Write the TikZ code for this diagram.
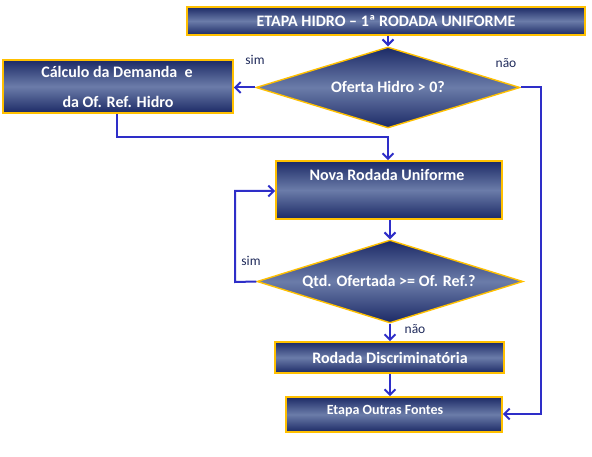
\documentclass[tikz,border=0pt]{standalone}
\usepackage{fontspec}
\setmainfont{Carlito}
\usetikzlibrary{shapes.geometric,arrows.meta}
\definecolor{navy}{HTML}{1C2A66}
\definecolor{midblue}{HTML}{6B7CA9}
\definecolor{gold}{HTML}{FFC000}
\definecolor{conn}{HTML}{2E2EC8}
\definecolor{lbl}{HTML}{1F2A5A}
\tikzset{
  box/.style={rectangle, draw=gold, line width=1.6pt, top color=navy, bottom color=navy, middle color=midblue, inner sep=0pt},
  dia/.style={diamond, draw=gold, line width=1.4pt, top color=navy, bottom color=navy, middle color=midblue, inner sep=0pt},
  txt/.style={text=white, font=\bfseries\fontsize{16}{18}\selectfont, inner sep=0pt},
  lab/.style={text=lbl, font=\fontsize{13.5}{15}\selectfont, inner sep=0pt},
  conn/.style={draw=conn, line width=2pt, -{Straight Barb[length=5.5pt,width=11pt,line width=2pt]}},
  line/.style={draw=conn, line width=2pt}
}
\begin{document}
\begin{tikzpicture}[x=1pt,y=-1pt]
\useasboundingbox (0,0) rectangle (592,457);
% nodes
\node[box, minimum width=398pt, minimum height=28pt] (top) at (386,21) {};
\node[txt] (toptxt) at (386,21) {ETAPA HIDRO – 1ª RODADA UNIFORME};
\node[dia, minimum width=264pt, minimum height=81pt] (d1) at (388,87.5) {};
\node[txt] (d1txt) at (388,87) {Oferta Hidro > 0?};
\node[box, minimum width=230pt, minimum height=53pt] (calc) at (118,86.5) {};
\node[txt] (calc1) at (117,72) {Cálculo da Demanda\ \ e};
\node[txt] (calc2) at (118,102) {da Of. Ref. Hidro};
\node[box, minimum width=226pt, minimum height=58pt] (nova) at (389,190) {};
\node[txt] (novatxt) at (387,175) {Nova Rodada Uniforme};
\node[dia, minimum width=266pt, minimum height=83pt] (d2) at (390,281.5) {};
\node[txt] (d2txt) at (389,282) {Qtd. Ofertada >= Of. Ref.?};
\node[box, minimum width=229pt, minimum height=31pt] (disc) at (389.5,357.5) {};
\node[txt] (disctxt) at (390,358) {Rodada Discriminatória};
\node[box, minimum width=216pt, minimum height=35pt] (outras) at (394,414.5) {};
\node[txt, font=\bfseries\fontsize{14}{16}\selectfont] (outrastxt) at (385,411) {Etapa Outras Fontes};
% labels
\node[lab] (sim1) at (255,60) {sim};
\node[lab] (nao1) at (506,63) {não};
\node[lab] (sim2) at (251,261) {sim};
\node[lab] (nao2) at (415,329) {não};
% helper coordinates
\coordinate (c1) at (117,137);
\coordinate (c2) at (388,137);
\coordinate (l1) at (235,282);
\coordinate (l2) at (235,191);
\coordinate (r1) at (541,87.5);
\coordinate (r2) at (541,414);
% connectors
\draw[conn] (top.south -| d1.north) -- (d1.north);
\draw[conn] (d1.west) -- (calc.east |- d1.west);
\draw[conn] (calc.south -| c1) -- (c1) -- (c2) -- (c2 |- nova.north);
\draw[conn] (nova.south -| d2.north) -- (d2.north);
\draw[conn] (d2.west) -- (l1) -- (l2) -- (nova.west |- l2);
\draw[conn] (d2.south) -- (d2.south |- disc.north);
\draw[conn] (disc.south -| d2.south) -- (d2.south |- outras.north);
\draw[conn] (d1.east) -- (r1) -- (r2) -- (outras.east |- r2);
\end{tikzpicture}
\end{document}
